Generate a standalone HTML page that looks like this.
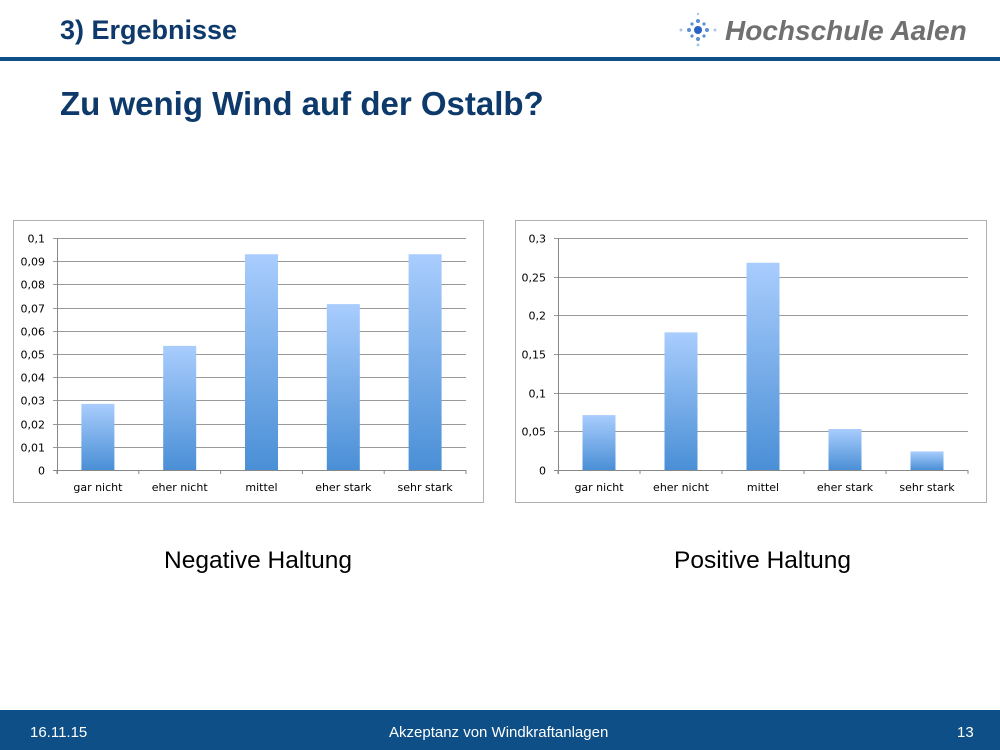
<!DOCTYPE html>
<html><head><meta charset="utf-8"><style>
body{margin:0;width:1000px;height:750px;position:relative;background:#fff;font-family:"Liberation Sans",sans-serif;overflow:hidden}
.abs{position:absolute}
</style></head><body>
<div class="abs" style="left:60px;top:15px;font-size:27px;font-weight:bold;color:#0d3a6a">3) Ergebnisse</div>
<div class="abs" style="left:668px;top:10px;width:320px;height:42px">
<svg width="60" height="40" class="abs" style="left:0;top:0">
<g fill="#5b8fd6"><circle cx="30" cy="20" r="4" fill="#2a62c4"/><circle cx="30" cy="11" r="2"/><circle cx="30" cy="29" r="2"/><circle cx="21" cy="20" r="2"/><circle cx="39" cy="20" r="2"/><circle cx="24" cy="14" r="1.6"/><circle cx="36" cy="14" r="1.6"/><circle cx="24" cy="26" r="1.6"/><circle cx="36" cy="26" r="1.6"/><circle cx="30" cy="35" r="1.5" opacity=".5"/><circle cx="13" cy="20" r="1.5" opacity=".5"/><circle cx="47" cy="20" r="1.5" opacity=".5"/><circle cx="30" cy="4" r="1.2" opacity=".5"/></g></svg>
<div class="abs" style="left:57px;top:5px;font-size:28px;font-weight:bold;font-style:italic;color:#707070">Hochschule Aalen</div></div>
<div class="abs" style="left:0;top:57px;width:1000px;height:4px;background:#0d4f86"></div>
<div class="abs" style="left:60px;top:85px;font-size:33px;font-weight:bold;color:#0d3a6a">Zu wenig Wind auf der Ostalb?</div>
<svg class="abs" style="left:0;top:0" width="1000" height="750" id="charts"></svg>
<div class="abs" style="left:164px;top:547px;font-size:24.5px;color:#000">Negative Haltung</div>
<div class="abs" style="left:674px;top:547px;font-size:24.5px;color:#000">Positive Haltung</div>
<div class="abs" style="left:0;top:710px;width:1000px;height:40px;background:#0d4f86;color:#fff;font-size:15px">
<span class="abs" style="left:30px;top:14px">16.11.15</span>
<span class="abs" style="left:389px;top:14px">Akzeptanz von Windkraftanlagen</span>
<span class="abs" style="left:957px;top:14px">13</span></div>
<script>
const categories=["gar nicht","eher nicht","mittel","eher stark","sehr stark"];
const negValues=[0.0285,0.0535,0.093,0.0715,0.093];
const negTicks=["0","0,01","0,02","0,03","0,04","0,05","0,06","0,07","0,08","0,09","0,1"];
const posValues=[0.071,0.178,0.268,0.053,0.024];
const posTicks=["0","0,05","0,1","0,15","0,2","0,25","0,3"];
const NS="http://www.w3.org/2000/svg";
const svg=document.getElementById('charts');
const defs=document.createElementNS(NS,'defs');
defs.innerHTML='<linearGradient id="bg" x1="0" y1="0" x2="0" y2="1"><stop offset="0" stop-color="#a9cdfd"/><stop offset="1" stop-color="#4a8fd6"/></linearGradient>';
svg.appendChild(defs);
function mk(t,a,p){const e=document.createElementNS(NS,t);for(const k in a)e.setAttribute(k,a[k]);p.appendChild(e);return e;}
function chart(name,bx,bw,px0,px1,values,ticks,step){
 const g=mk('g',{},svg);
 
 
 const frame=mk('rect',{x:bx+.5,y:220.5,width:bw,height:282,fill:'#fff',stroke:'#b0b0b0'},g);
 
 
 const y0=470,y1=238,max=step*(ticks.length-1);
 const Y=v=>y0-(v/max)*(y0-y1);
 const n=categories.length,cw=(px1-px0)/n;
 const X=i=>px0+cw*(i+.5);
 ticks.forEach((t,i)=>{const y=Math.round(Y(i*step))+.5;
  const l=mk('line',{x1:px0-4,x2:px1,y1:y,y2:y,stroke:i==0?'#888':'#999'},g);
  
  
  const tx=mk('text',{x:px0-12,y:y+4,'text-anchor':'end','font-size':'11','font-family':'DejaVu Sans, sans-serif',fill:'#000'},g);tx.textContent=t;
  
  });
 mk('line',{x1:px0+.5,x2:px0+.5,y1:y1,y2:y0+4,stroke:'#888'},g);
 for(let i=0;i<=n;i++){mk('line',{x1:px0+cw*i,x2:px0+cw*i,y1:y0,y2:y0+4,stroke:'#888'},g);}
 values.forEach((v,i)=>{const b=mk('rect',{x:X(i)-16.5,y:Y(v),width:33,height:y0-Y(v),fill:'url(#bg)'},g);
  
  
  const tx=mk('text',{x:X(i),y:491,'text-anchor':'middle','font-size':'11','font-family':'DejaVu Sans, sans-serif',fill:'#000'},g);tx.textContent=categories[i];
  
  });
}
chart('negative-chart',13,470,57,466,negValues,negTicks,0.01);
chart('positive-chart',515,471,558,968,posValues,posTicks,0.05);
</script>
</body></html>
